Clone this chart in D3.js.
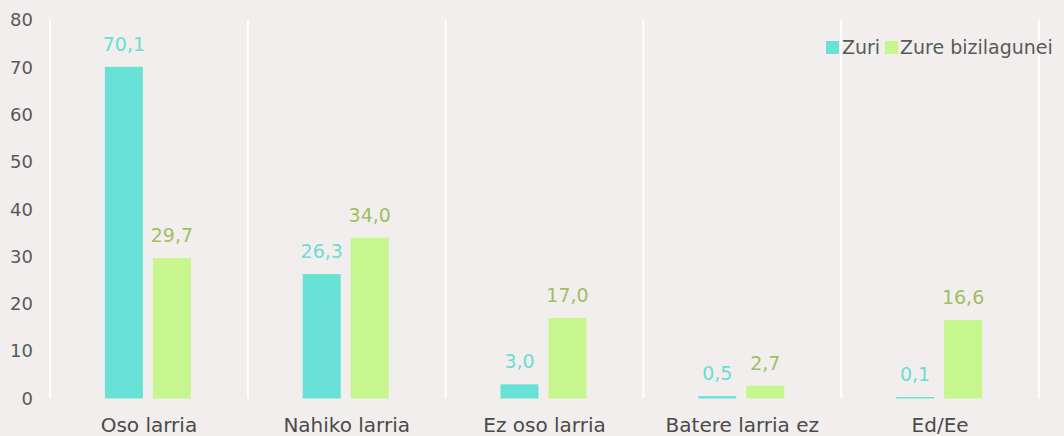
<!DOCTYPE html>
<html><head><meta charset="utf-8">
<script src="https://cdn.jsdelivr.net/npm/d3@7"></script>
<style>
html,body{margin:0;padding:0;background:#F2EEED;}
svg{display:block;font-family:"DejaVu Sans",sans-serif;}
</style></head>
<body><svg id="c" width="1064" height="436"></svg>
<script>
const categories = ["Oso larria","Nahiko larria","Ez oso larria","Batere larria ez","Ed/Ee"];
const seriesNames = ["Zuri","Zure bizilagunei"];
const zuri = [70.1, 26.3, 3.0, 0.5, 0.1];
const bizilagunei = [29.7, 34.0, 17.0, 2.7, 16.6];
const yTicks = [0,10,20,30,40,50,60,70,80];

const barColors = ["#68E2D6","#C8F68E"];
const labelColors = ["#6CDDD2","#9FC062"];

const svg = d3.select("#c");
const W = 1064, H = 436;
const m = {left:50, right:25, top:20, bottom:37.5};
const x = d3.scaleBand().domain(categories).range([m.left, W - m.right]).paddingInner(0).paddingOuter(0);
const y = d3.scaleLinear().domain([0,80]).range([H - m.bottom, m.top]);
const x1 = d3.scaleBand().domain(seriesNames).range([0, 86]).paddingInner(10/48);

svg.append("rect").attr("width",W).attr("height",H).attr("fill","#F2EEED");

// vertical separators
const bounds = categories.map(c => x(c)).concat([x(categories[categories.length-1]) + x.bandwidth()]);
svg.selectAll("line.sep").data(bounds).join("line")
  .attr("x1",d=>d).attr("x2",d=>d).attr("y1",y(80)).attr("y2",y(0))
  .attr("stroke","#FFFFFF").attr("stroke-width",2);

// y axis labels
const yAxis = d3.axisLeft(y).tickValues(yTicks).tickSize(0).tickPadding(17);
const gy = svg.append("g").attr("transform",`translate(${m.left},0)`).call(yAxis);
gy.select(".domain").remove();
gy.selectAll("text").attr("fill","#595959").style("font-size","18px").attr("font-family","DejaVu Sans");

// x axis labels
const xAxis = d3.axisBottom(x).tickSize(0).tickPadding(19);
const gx = svg.append("g").attr("transform",`translate(0,${y(0)})`).call(xAxis);
gx.select(".domain").remove();
gx.selectAll("text").attr("fill","#4A4A4A").style("font-size","20px").attr("font-family","DejaVu Sans");

const data = categories.map((c,i)=>({cat:c, vals:[zuri[i], bizilagunei[i]]}));
const groupOffset = (x.bandwidth() - 86)/2 - 1;
const g = svg.selectAll("g.cat").data(data).join("g")
  .attr("transform", d=>`translate(${x(d.cat)+groupOffset},0)`);

g.selectAll("rect").data(d=>d.vals.map((v,j)=>({s:seriesNames[j], v, j}))).join("rect")
  .attr("x", d=>x1(d.s)).attr("width", x1.bandwidth())
  .attr("y", d=>Math.min(y(d.v), y(0)-1.5)).attr("height", d=>Math.max(y(0)-y(d.v),1.5))
  .attr("fill", d=>barColors[d.j]);

g.selectAll("text.val").data(d=>d.vals.map((v,j)=>({s:seriesNames[j], v, j}))).join("text")
  .attr("class","val")
  .attr("x", d=>x1(d.s)+x1.bandwidth()/2)
  .attr("y", d=>Math.min(y(d.v), y(0)-1.5) - 16)
  .attr("text-anchor","middle")
  .attr("fill", d=>labelColors[d.j])
  .style("font-size","19px")
  .text(d=>d3.format(".1f")(d.v).replace(".",","));

// legend
const leg = svg.append("g");
const legItems = [{name:seriesNames[0], sx:826, tx:842},{name:seriesNames[1], sx:885, tx:900}];
legItems.forEach((it,i)=>{
  leg.append("rect").attr("x",it.sx).attr("y",41).attr("width",13).attr("height",13).attr("fill",barColors[i]);
  leg.append("text").attr("x",it.tx).attr("y",54).attr("fill","#595959").style("font-size","19px").text(it.name);
});
</script></body></html>
